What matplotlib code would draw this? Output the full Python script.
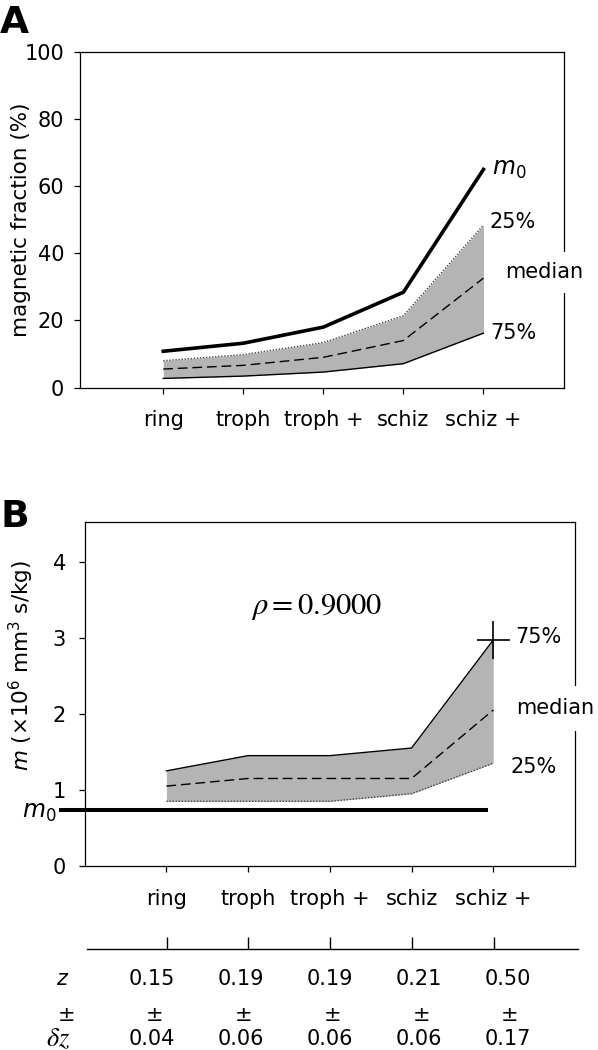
import numpy as np
import matplotlib
matplotlib.use("Agg")
import matplotlib.pyplot as plt

plt.rcParams["font.family"] = ["DejaVu Sans"]
plt.rcParams["mathtext.fontset"] = "dejavusans"

STAGES = ["ring", "troph", "troph +", "schiz", "schiz +"]

# panel A: magnetic fraction (%)
FRAC_M0 = [10.8, 13.2, 18.0, 28.4, 65.0]
FRAC_Q25 = [8.0, 9.8, 13.4, 21.4, 48.4]
FRAC_MED = [5.5, 6.6, 9.0, 14.0, 32.6]
FRAC_Q75 = [2.7, 3.4, 4.6, 7.1, 16.2]

# panel B: m (x10^6 mm^3 s/kg)
M_Q75 = [1.25, 1.45, 1.45, 1.55, 2.97]
M_MED = [1.05, 1.15, 1.15, 1.15, 2.05]
M_Q25 = [0.85, 0.85, 0.85, 0.95, 1.35]
M0_B = 0.73
M0_SPAN = (-0.31, 4.94)
RHO = 0.9000

# table under panel B
Z = [0.15, 0.19, 0.19, 0.21, 0.50]
DZ = [0.04, 0.06, 0.06, 0.06, 0.17]

W, H = 598, 1050
FS = 15
BAND = "#b4b4b4"


def box(l, t, r, b):
    return [l / W, 1 - b / H, (r - l) / W, (b - t) / H]


def style_axes(ax, ypad):
    for s in ax.spines.values():
        s.set_linewidth(0.9)
    ax.tick_params(axis="both", direction="out", length=4.5, width=0.9,
                   labelsize=FS)
    ax.tick_params(axis="x", pad=12)
    ax.tick_params(axis="y", pad=ypad)


def label(ax, txt, xy, dx, dy, **kw):
    ax.annotate(txt, xy=xy, xytext=(dx, dy), textcoords="offset points",
                ha="left", va="center", fontsize=kw.pop("fontsize", FS),
                zorder=6, **kw)


fig = plt.figure(figsize=(W / 100, H / 100), dpi=100)
axA = fig.add_axes(box(80, 52, 563.5, 387.5))
axB = fig.add_axes(box(84.7, 522, 575, 866))
axT = fig.add_axes(box(87, 949, 578, 1050))
x = np.arange(1, len(STAGES) + 1)

# ---- panel A
axA.fill_between(x, FRAC_Q75, FRAC_Q25, color=BAND, lw=0)
axA.plot(x, FRAC_Q25, color="#444444", lw=1.0, ls=(0, (1, 1.2)))
axA.plot(x, FRAC_MED, color="k", lw=1.0, ls=(0, (7, 3.5)))
axA.plot(x, FRAC_Q75, color="k", lw=1.0)
axA.plot(x, FRAC_M0, color="k", lw=2.6)
axA.set_xlim(-0.04, 6)
axA.set_ylim(0, 100)
axA.set_xticks(x, STAGES)
axA.set_yticks(np.arange(0, 101, 20))
style_axes(axA, 7)

label(axA, "$m_0$", (5, FRAC_M0[-1]), 6, 0, fontsize=17)
label(axA, "25%", (5, FRAC_Q25[-1]), 4.6, 2.3)
label(axA, "75%", (5, FRAC_Q75[-1]), 4.6, 0)
label(axA, "median", (5, FRAC_MED[-1]), 15.4, 4.3,
      bbox=dict(boxstyle="square,pad=0.5", fc="white", ec="none"))

# ---- panel B
axB.fill_between(x, M_Q25, M_Q75, color=BAND, lw=0)
axB.plot(x, M_Q25, color="#444444", lw=1.0, ls=(0, (1, 1.2)))
axB.plot(x, M_MED, color="k", lw=1.0, ls=(0, (7, 3.5)))
axB.plot(x, M_Q75, color="k", lw=1.0)
axB.plot(M0_SPAN, [M0_B, M0_B], color="k", lw=2.9, clip_on=False,
         solid_capstyle="butt")
axB.errorbar(5, M_Q75[-1], xerr=0.2, yerr=0.25, color="k", lw=1.2, capsize=0)
axB.set_xlim(0, 6)
axB.set_ylim(0, 4.52)
axB.set_xticks(x, STAGES)
axB.set_yticks(np.arange(0, 5, 1))
style_axes(axB, 9)

axB.annotate("$m_0$", xy=(M0_SPAN[0], M0_B), xytext=(-2, -1),
             textcoords="offset points", ha="right", va="center",
             fontsize=17, annotation_clip=False)
axB.text(0.473, 0.754, rf"$\rho = {RHO:.4f}$", transform=axB.transAxes,
         ha="center", va="center", fontsize=22, math_fontfamily="stix")
label(axB, "75%", (5, M_Q75[-1]), 15.5, 2.4)
label(axB, "median", (5, M_MED[-1]), 16.4, 1.4,
      bbox=dict(boxstyle="square,pad=0.6", fc="white", ec="none"))
label(axB, "25%", (5, M_Q25[-1]), 12.2, -2.7)

# ---- table of z values
axT.set_xlim((87 - 84.7) / 81.8, (578 - 84.7) / 81.8)
axT.set_ylim(1050, 949)
for side in ("left", "right", "bottom"):
    axT.spines[side].set_visible(False)
axT.spines["top"].set_linewidth(1.0)
axT.set_yticks([])
axT.xaxis.set_ticks_position("top")
axT.set_xticks(x)
axT.tick_params(axis="x", direction="out", length=8.6, width=1.0,
                labeltop=False)

cols = np.linspace(0.82, 5.17, len(Z))
axT.text(-0.27, 979, "$z$", ha="center", va="center", fontsize=FS)
axT.text(-0.22, 1015, "±", ha="center", va="center", fontsize=FS)
axT.text(-0.32, 1046, r"$\delta z$", ha="center", va="baseline", fontsize=19,
         math_fontfamily="stix")
for c, zv, dv in zip(cols, Z, DZ):
    axT.text(c, 979, f"{zv:.2f}", ha="center", va="center", fontsize=FS)
    axT.text(c + 0.03, 1015, "±", ha="center", va="center", fontsize=FS)
    axT.text(c, 1039, f"{dv:.2f}", ha="center", va="center", fontsize=FS)

# ---- panel letters and axis titles
fig.text(0 / W, 1 - 33 / H, "A", fontsize=27, fontweight="bold",
         ha="left", va="baseline")
fig.text(0 / W, 1 - 527 / H, "B", fontsize=27, fontweight="bold",
         ha="left", va="baseline")
fig.text(21 / W, 1 - 220 / H, "magnetic fraction (%)", rotation=90,
         ha="center", va="center", fontsize=15.5)
fig.text(21 / W, 1 - 666 / H, r"$m$ (×10$^{6}$ mm$^{3}$ s/kg)", rotation=90,
         ha="center", va="center", fontsize=15.5)

fig.savefig("out.png", dpi=100)
